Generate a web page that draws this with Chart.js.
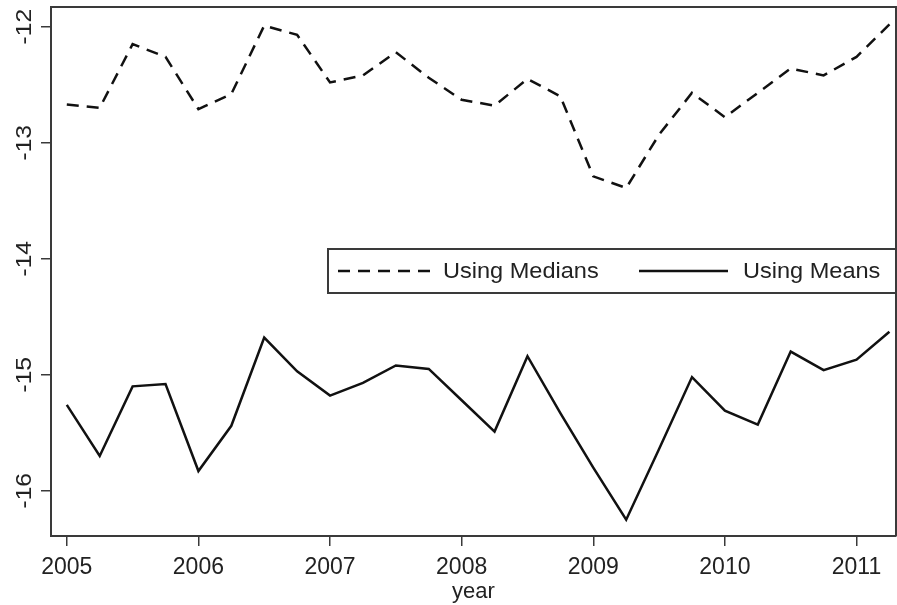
<!DOCTYPE html>
<html>
<head>
<meta charset="utf-8">
<script src="https://cdn.jsdelivr.net/npm/chart.js@4/dist/chart.umd.min.js"></script>
<style>
  html, body { margin: 0; padding: 0; background: #fff; overflow: hidden; }
  #chart { display: block; }
</style>
</head>
<body>
<canvas id="chart" width="897" height="605"></canvas>
<script>
// quarterly observations, 2005q1 .. 2011q2
const years = [
  2005.0, 2005.25, 2005.5, 2005.75, 2006.0, 2006.25, 2006.5, 2006.75,
  2007.0, 2007.25, 2007.5, 2007.75, 2008.0, 2008.25, 2008.5, 2008.75,
  2009.0, 2009.25, 2009.5, 2009.75, 2010.0, 2010.25, 2010.5, 2010.75,
  2011.0, 2011.25
];
const usingMedians = [
  -12.67, -12.70, -12.15, -12.26, -12.71, -12.58, -11.99, -12.07,
  -12.48, -12.42, -12.22, -12.44, -12.63, -12.68, -12.45, -12.60,
  -13.29, -13.39, -12.93, -12.57, -12.78, -12.57, -12.36, -12.42,
  -12.26, -11.98
];
const usingMeans = [
  -15.26, -15.70, -15.10, -15.08, -15.83, -15.44, -14.68, -14.97,
  -15.18, -15.07, -14.92, -14.95, -15.22, -15.49, -14.84, -15.33,
  -15.80, -16.25, -15.64, -15.02, -15.31, -15.43, -14.80, -14.96,
  -14.87, -14.63
];
const xTicks = [2005, 2006, 2007, 2008, 2009, 2010, 2011];
const yTicks = [-16, -15, -14, -13, -12];

const FONT = '"Liberation Sans", Arial, sans-serif';
const AXIS = '#3a3a3a';

const toPoints = vals => vals.map((v, i) => ({ x: years[i], y: v }));

// frame, rotated y labels and the boxed legend (Stata style)
const stataDecor = {
  id: 'stataDecor',
  afterDraw(chart) {
    const { ctx, chartArea: a } = chart;
    const ys = chart.scales.y;
    ctx.save();

    // top and right edges of the plot box
    ctx.strokeStyle = AXIS;
    ctx.lineWidth = 2;
    ctx.beginPath();
    ctx.moveTo(a.left, a.top);
    ctx.lineTo(a.right, a.top);
    ctx.lineTo(a.right, a.bottom);
    ctx.stroke();

    // y tick labels, turned 90 degrees
    ctx.fillStyle = '#222';
    ctx.font = '22px ' + FONT;
    ctx.textAlign = 'center';
    ctx.textBaseline = 'middle';
    yTicks.forEach(t => {
      const py = ys.getPixelForValue(t);
      ctx.save();
      ctx.translate(25, py);
      ctx.rotate(-Math.PI / 2);
      ctx.scale(1.12, 1);
      ctx.fillText(String(t), 0, 0);
      ctx.restore();
    });

    // legend box
    const bx = 328, by = 249, bw = a.right - 328, bh = 44;
    ctx.fillStyle = '#fff';
    ctx.fillRect(bx, by, bw, bh);
    ctx.strokeStyle = AXIS;
    ctx.lineWidth = 2;
    ctx.strokeRect(bx, by, bw, bh);

    const cy = by + bh / 2;
    const items = [
      { ds: chart.data.datasets[0], x0: 338, x1: 430, tx: 443 },
      { ds: chart.data.datasets[1], x0: 639, x1: 728, tx: 743 }
    ];
    ctx.font = '22px ' + FONT;
    ctx.textAlign = 'left';
    items.forEach(it => {
      ctx.strokeStyle = it.ds.borderColor;
      ctx.lineWidth = 2.5;
      ctx.setLineDash(it.ds.borderDash || []);
      ctx.beginPath();
      ctx.moveTo(it.x0, cy);
      ctx.lineTo(it.x1, cy);
      ctx.stroke();
      ctx.setLineDash([]);
      ctx.fillStyle = '#222';
      ctx.save();
      ctx.translate(it.tx, cy + 1);
      ctx.scale(1.07, 1);
      ctx.fillText(it.ds.label, 0, 0);
      ctx.restore();
    });
    ctx.restore();
  }
};

new Chart(document.getElementById('chart'), {
  type: 'line',
  data: {
    datasets: [
      {
        label: 'Using Medians',
        data: toPoints(usingMedians),
        borderColor: '#111',
        borderWidth: 2.5,
        borderDash: [12, 8],
        pointRadius: 0,
        tension: 0
      },
      {
        label: 'Using Means',
        data: toPoints(usingMeans),
        borderColor: '#111',
        borderWidth: 2.5,
        pointRadius: 0,
        tension: 0
      }
    ]
  },
  options: {
    responsive: false,
    animation: false,
    devicePixelRatio: 1,
    layout: { padding: { top: 7, right: 1, left: 0, bottom: 0 } },
    plugins: {
      legend: { display: false },
      tooltip: { enabled: false }
    },
    scales: {
      x: {
        type: 'linear',
        min: 2004.88,
        max: 2011.30,
        afterBuildTicks: s => { s.ticks = xTicks.map(v => ({ value: v })); },
        afterFit: s => { s.height = 69; },
        grid: { drawOnChartArea: false, drawTicks: true, tickLength: 10, color: AXIS, lineWidth: 1.5 },
        border: { color: AXIS, width: 2 },
        ticks: {
          color: '#222',
          font: { family: FONT, size: 23 },
          padding: 8,
          maxRotation: 0,
          autoSkip: false,
          callback: v => String(v)
        },
        title: {
          display: true,
          text: 'year',
          color: '#222',
          font: { family: FONT, size: 22 },
          padding: { top: -8, bottom: 0 }
        }
      },
      y: {
        min: -16.39,
        max: -11.83,
        afterBuildTicks: s => { s.ticks = yTicks.map(v => ({ value: v })); },
        afterFit: s => { s.width = 51; },
        grid: { drawOnChartArea: false, drawTicks: true, tickLength: 10, color: AXIS, lineWidth: 1.5 },
        border: { color: AXIS, width: 2 },
        ticks: { color: 'rgba(0,0,0,0)', font: { family: FONT, size: 1 } }
      }
    }
  },
  plugins: [stataDecor]
});
</script>
</body>
</html>
